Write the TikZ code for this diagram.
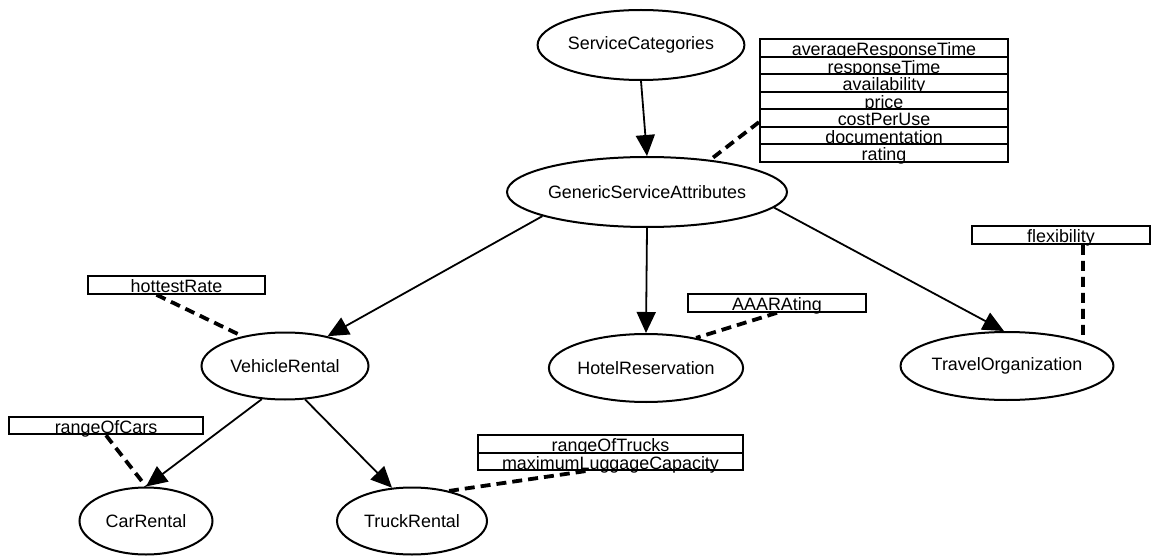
\documentclass[tikz,border=0pt]{standalone}
\usepackage{fontspec}
\setmainfont{Liberation Sans}
\usetikzlibrary{shapes.geometric,arrows.meta}

\begin{document}
\begin{tikzpicture}[x=1pt, y=-1pt,
        every node/.style={font=\fontsize{17.9}{20}\selectfont, inner sep=0pt, fill=white, line width=2pt},
        cls/.style={ellipse, draw},
        attr/.style={rectangle, draw, minimum height=17.6pt, text height=15.5pt, text depth=0pt},
        isa/.style={-{Triangle[length=21pt, width=19pt]}, line width=1.8pt},
        prop/.style={line width=3.8pt, dash pattern=on 10pt off 6pt}]
            \useasboundingbox (0,0) rectangle (1151,556);

            % classes
            \node[cls, minimum width=202pt, minimum height=70pt] (sc) at (641,45) {ServiceCategories};
            \node[cls, minimum width=260pt, minimum height=70pt] (gsa) at (647,192) {GenericServiceAttributes};
            \node[cls, minimum width=167pt, minimum height=67pt] (vr) at (285,366) {VehicleRental};
            \node[cls, minimum width=194pt, minimum height=68pt] (hr) at (646,368) {HotelReservation};
            \node[cls, minimum width=211pt, minimum height=68pt] (to) at (1007,366) {TravelOrganization};
            \node[cls, minimum width=133pt, minimum height=67pt] (cr) at (146,521) {CarRental};
            \node[cls, minimum width=150pt, minimum height=67pt] (tr) at (412,521) {TruckRental};

            % attributes
            \node[attr, minimum width=248pt] (art) at (884,47.8) {averageResponseTime};
            \node[attr, minimum width=248pt] (rt) at (884,65.4) {responseTime};
            \node[attr, minimum width=248pt] (avail) at (884,83.0) {availability};
            \node[attr, minimum width=248pt] (price) at (884,100.5) {price};
            \node[attr, minimum width=248pt] (cpu) at (884,118.1) {costPerUse};
            \node[attr, minimum width=248pt] (doc) at (884,135.7) {documentation};
            \node[attr, minimum width=248pt] (rating) at (884,153.2) {rating};
            \node[attr, minimum width=177pt] (hot) at (176.5,285) {hottestRate};
            \node[attr, minimum width=194pt] (cars) at (106,425.5) {rangeOfCars};
            \node[attr, minimum width=178pt] (aaa) at (777,303) {AAARAting};
            \node[attr, minimum width=178pt] (flex) at (1061,235) {flexibility};
            \node[attr, minimum width=265pt] (rot) at (610.5,443.8) {rangeOfTrucks};
            \node[attr, minimum width=265pt] (mlc) at (610.5,461.3) {maximumLuggageCapacity};

            \draw[isa] (sc.south) -- (gsa.north);
            \draw[isa] (gsa.193) -- (vr.35);
            \draw[isa] (gsa.south) -- (hr.north);
            \draw[isa] (gsa.-7) -- (to.95);
            \draw[isa] (vr.235) -- (cr.north);
            \draw[isa] (vr.-59) -- (tr.121);

            \draw[prop] ([yshift=-4pt]cpu.west) -- (gsa.27);
            \draw[prop] ([xshift=-20pt]hot.south) -- (vr.145);
            \draw[prop] (cars.south) -- (cr.north);
            \draw[prop] ([xshift=-25pt]mlc.south) -- (tr.39);
            \draw[prop] (aaa.south) -- (hr.31);
            \draw[prop] ([xshift=22pt]flex.south) -- (to.18);
        \end{tikzpicture}
\end{document}
